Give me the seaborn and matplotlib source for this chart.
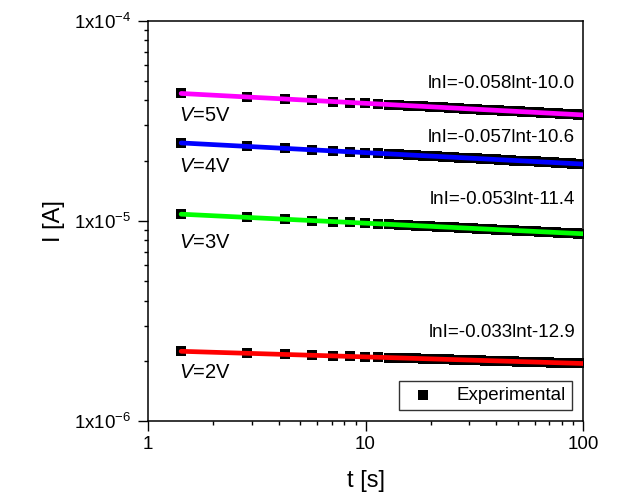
import numpy as np
import pandas as pd
import matplotlib
matplotlib.use("Agg")
import matplotlib.pyplot as plt
import matplotlib.ticker as mticker
import seaborn as sns

# ---- data ----
t_s = [1.42, 2.84, 4.26, 5.68, 7.10, 8.52, 9.94, 11.36, 12.78, 14.20,
       15.62, 17.04, 18.46, 19.88, 21.30, 22.72, 24.14, 25.56, 26.98, 28.40,
       29.82, 31.24, 32.66, 34.08, 35.50, 36.92, 38.34, 39.76, 41.18, 42.60,
       44.02, 45.44, 46.86, 48.28, 49.70, 51.12, 52.54, 53.96, 55.38, 56.80,
       58.22, 59.64, 61.06, 62.48, 63.90, 65.32, 66.74, 68.16, 69.58, 71.00,
       72.42, 73.84, 75.26, 76.68, 78.10, 79.52, 80.94, 82.36, 83.78, 85.20,
       86.62, 88.04, 89.46, 90.88, 92.30, 93.72, 95.14, 96.56, 97.98, 99.40]

# currents in units of 1e-5 A
I_5V = [4.33, 4.16, 4.06, 4.00, 3.94, 3.90, 3.87, 3.84, 3.81, 3.79,
        3.77, 3.75, 3.73, 3.72, 3.70, 3.69, 3.67, 3.66, 3.65, 3.64,
        3.63, 3.62, 3.61, 3.60, 3.59, 3.58, 3.58, 3.57, 3.56, 3.55,
        3.55, 3.54, 3.54, 3.53, 3.52, 3.52, 3.51, 3.51, 3.50, 3.50,
        3.49, 3.49, 3.48, 3.48, 3.47, 3.47, 3.46, 3.46, 3.45, 3.45,
        3.45, 3.44, 3.44, 3.44, 3.43, 3.43, 3.42, 3.42, 3.42, 3.41,
        3.41, 3.41, 3.40, 3.40, 3.40, 3.40, 3.39, 3.39, 3.39, 3.38]
I_4V = [2.45, 2.36, 2.30, 2.26, 2.24, 2.21, 2.19, 2.18, 2.16, 2.15,
        2.14, 2.13, 2.12, 2.11, 2.10, 2.09, 2.08, 2.08, 2.07, 2.07,
        2.06, 2.05, 2.05, 2.04, 2.04, 2.03, 2.03, 2.03, 2.02, 2.02,
        2.01, 2.01, 2.01, 2.00, 2.00, 2.00, 1.99, 1.99, 1.99, 1.99,
        1.98, 1.98, 1.98, 1.97, 1.97, 1.97, 1.97, 1.96, 1.96, 1.96,
        1.96, 1.96, 1.95, 1.95, 1.95, 1.95, 1.95, 1.94, 1.94, 1.94,
        1.94, 1.94, 1.93, 1.93, 1.93, 1.93, 1.93, 1.93, 1.92, 1.92]
I_3V = [1.080, 1.041, 1.019, 1.003, 0.992, 0.982, 0.974, 0.967, 0.961, 0.956,
        0.951, 0.947, 0.943, 0.939, 0.936, 0.932, 0.929, 0.927, 0.924, 0.921,
        0.919, 0.917, 0.915, 0.913, 0.911, 0.909, 0.907, 0.905, 0.903, 0.902,
        0.900, 0.899, 0.897, 0.896, 0.895, 0.893, 0.892, 0.891, 0.889, 0.888,
        0.887, 0.886, 0.885, 0.884, 0.883, 0.882, 0.881, 0.880, 0.879, 0.878,
        0.877, 0.876, 0.875, 0.874, 0.873, 0.872, 0.872, 0.871, 0.870, 0.869,
        0.869, 0.868, 0.867, 0.866, 0.866, 0.865, 0.864, 0.864, 0.863, 0.862]
I_2V = [0.2230, 0.2180, 0.2151, 0.2130, 0.2115, 0.2102, 0.2091, 0.2082, 0.2074, 0.2067,
        0.2060, 0.2054, 0.2049, 0.2044, 0.2039, 0.2035, 0.2031, 0.2027, 0.2023, 0.2020,
        0.2017, 0.2014, 0.2011, 0.2008, 0.2005, 0.2003, 0.2000, 0.1998, 0.1995, 0.1993,
        0.1991, 0.1989, 0.1987, 0.1985, 0.1983, 0.1981, 0.1979, 0.1978, 0.1976, 0.1974,
        0.1973, 0.1971, 0.1970, 0.1968, 0.1967, 0.1965, 0.1964, 0.1963, 0.1961, 0.1960,
        0.1959, 0.1957, 0.1956, 0.1955, 0.1954, 0.1953, 0.1951, 0.1950, 0.1949, 0.1948,
        0.1947, 0.1946, 0.1945, 0.1944, 0.1943, 0.1942, 0.1941, 0.1940, 0.1939, 0.1938]

voltages = ["5V", "4V", "3V", "2V"]
series = [I_5V, I_4V, I_3V, I_2V]
line_colors = ["#FF00FF", "#0000FF", "#00FF00", "#FF0000"]
fit_labels = ["lnI=-0.058lnt-10.0", "lnI=-0.057lnt-10.6",
              "lnI=-0.053lnt-11.4", "lnI=-0.033lnt-12.9"]
x_ticks = [1, 10, 100]
x_ticklabels = ["1", "10", "100"]
y_ticks = [1e-6, 1e-5, 1e-4]
y_ticklabels = [r"1x10$^{\mathregular{-6}}$", r"1x10$^{\mathregular{-5}}$",
                r"1x10$^{\mathregular{-4}}$"]

# ---- style ----
sns.set_theme(style="ticks")
plt.rcParams["font.family"] = ["Liberation Sans", "DejaVu Sans"]
plt.rcParams["mathtext.fontset"] = "custom"
plt.rcParams["mathtext.rm"] = "Liberation Sans"
plt.rcParams["mathtext.it"] = "Liberation Sans:italic"
plt.rcParams["text.color"] = "black"
plt.rcParams["axes.labelcolor"] = "black"
plt.rcParams["xtick.color"] = "black"
plt.rcParams["ytick.color"] = "black"

fig = plt.figure(figsize=(6.24, 4.98), dpi=100)
ax = fig.add_axes([0.2372, 0.1546, 0.6971, 0.8038])

# ---- experimental data frame ----
rows = []
for v, vals in zip(voltages, series):
    for t, i in zip(t_s, vals):
        rows.append({"t": t, "I": i * 1e-5, "V": v})
df = pd.DataFrame(rows)

# ---- fits (power-law regression of each series) ----
fit_rows = []
for v, vals in zip(voltages, series):
    lt = np.log(np.array(t_s))
    li = np.log(np.array(vals) * 1e-5)
    a, b = np.polyfit(lt, li, 1)
    for t in [t_s[0], 100.0]:
        fit_rows.append({"t": t, "I": np.exp(a * np.log(t) + b), "V": v})
fit_df = pd.DataFrame(fit_rows)

for k, v in enumerate(voltages):
    sub = df[df["V"] == v]
    sns.scatterplot(data=sub, x="t", y="I", ax=ax, marker="s", s=42,
                    color="black", edgecolor="black", linewidth=0,
                    label="Experimental" if k == 0 else None, zorder=3)
for k, v in enumerate(voltages):
    sub = fit_df[fit_df["V"] == v]
    sns.lineplot(data=sub, x="t", y="I", ax=ax, color=line_colors[k],
                 linewidth=3.4, legend=False, zorder=4)

ax.set_xscale("log")
ax.set_yscale("log")
ax.set_xlim(1, 100)
ax.set_ylim(1e-6, 1e-4)

ax.xaxis.set_major_locator(mticker.FixedLocator(x_ticks))
ax.xaxis.set_major_formatter(mticker.FixedFormatter(x_ticklabels))
ax.xaxis.set_minor_locator(mticker.LogLocator(base=10, subs=np.arange(2, 10)))
ax.xaxis.set_minor_formatter(mticker.NullFormatter())
ax.yaxis.set_major_locator(mticker.FixedLocator(y_ticks))
ax.yaxis.set_major_formatter(mticker.FixedFormatter(y_ticklabels))
ax.yaxis.set_minor_locator(mticker.LogLocator(base=10, subs=np.arange(2, 10)))
ax.yaxis.set_minor_formatter(mticker.NullFormatter())

ax.tick_params(axis="both", which="major", direction="out", length=7,
               width=1.0, labelsize=13.5, color="black", labelcolor="black")
ax.tick_params(axis="y", which="major", pad=5)
ax.tick_params(axis="both", which="minor", direction="out", length=3,
               width=1.0, color="black")
ax.tick_params(top=False, right=False, which="both")
for sp in ax.spines.values():
    sp.set_visible(True)
    sp.set_color("black")
    sp.set_linewidth(1.1)

ax.set_xlabel("t [s]", fontsize=17)
ax.set_ylabel("I [A]", fontsize=17)
ax.xaxis.set_label_coords(0.5, -0.122)
ax.yaxis.set_label_coords(-0.19, 0.5)

# fit equations
eq_y = [0.844, 0.709, 0.554, 0.222]
for lab, yy in zip(fit_labels, eq_y):
    ax.text(0.982, yy, lab, transform=ax.transAxes, ha="right", va="center",
            fontsize=13.5, color="black")

# voltage labels
v_y = [0.764, 0.637, 0.447, 0.122]
for v, yy in zip(voltages, v_y):
    ax.text(0.072, yy, r"$\mathit{V}$=" + v, transform=ax.transAxes,
            ha="left", va="center", fontsize=14.5, color="black")

leg = ax.legend(loc="lower right", fontsize=13.5, frameon=True, fancybox=False,
                edgecolor="black", borderaxespad=0.6, handletextpad=0.8,
                markerscale=1.0, borderpad=0.3)
leg.get_frame().set_linewidth(1.0)
for txt in leg.get_texts():
    txt.set_color("black")

fig.savefig("out.png", dpi=100)
